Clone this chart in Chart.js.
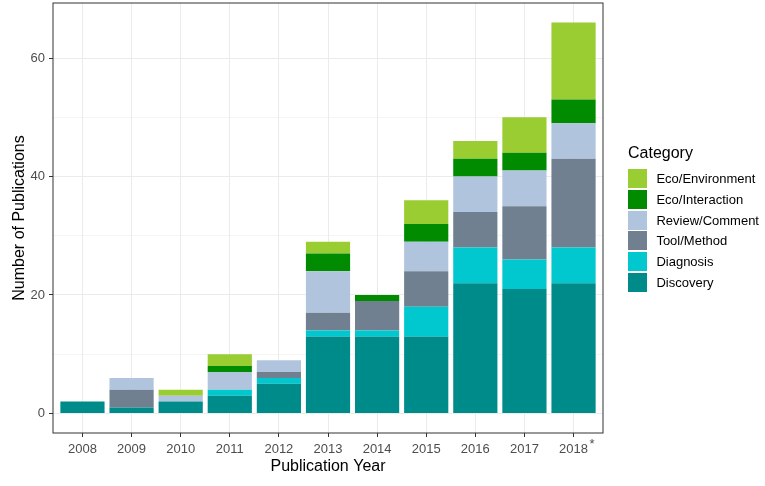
<!DOCTYPE html>
<html>
<head>
<meta charset="utf-8">
<title>Publications by category</title>
<script src="https://cdn.jsdelivr.net/npm/chart.js@4.4.1/dist/chart.umd.min.js"></script>
<style>
  body { margin: 0; background: #fff; font-family: "Liberation Sans", Arial, sans-serif; }
  #wrap { position: relative; width: 765px; height: 486px; }
  #legend { position: absolute; left: 628px; top: 144px; color: #000; }
  #legend .title { font-size: 16px; line-height: 18px; height: 24.3px; }
  #legend .item { display: flex; align-items: center; height: 20.7px; font-size: 13px; }
  #legend .key { width: 19px; height: 19px; margin-right: 9.4px; }
</style>
</head>
<body>
<div id="wrap">
  <canvas id="pubChart" width="765" height="486"></canvas>
  <div id="legend"><div class="title">Category</div></div>
</div>
<script>
// Data
const years = [2008, 2009, 2010, 2011, 2012, 2013, 2014, 2015, 2016, 2017, 2018];
const discovery      = [2, 1, 2, 3, 5, 13, 13, 13, 22, 21, 22];
const diagnosis      = [0, 0, 0, 1, 1, 1, 1, 5, 6, 5, 6];
const toolMethod     = [0, 3, 0, 0, 1, 3, 5, 6, 6, 9, 15];
const reviewComment  = [0, 2, 1, 3, 2, 7, 0, 5, 6, 6, 6];
const ecoInteraction = [0, 0, 0, 1, 0, 3, 1, 3, 3, 3, 4];
const ecoEnvironment = [0, 0, 1, 2, 0, 2, 0, 4, 3, 6, 13];
const yTicks = [0, 10, 20, 30, 40, 50, 60];

// bottom of the stack first
const series = [
    { label: "Discovery", data: discovery, color: "#008B8B" },
    { label: "Diagnosis", data: diagnosis, color: "#00C8CE" },
    { label: "Tool/Method", data: toolMethod, color: "#708090" },
    { label: "Review/Comment", data: reviewComment, color: "#B0C4DE" },
    { label: "Eco/Interaction", data: ecoInteraction, color: "#008B00" },
    { label: "Eco/Environment", data: ecoEnvironment, color: "#9ACD32" },
];

// Legend (top item is the top of the stack)
const legendBox = document.getElementById("legend");
series.slice().reverse().forEach(s => {
    const row = document.createElement("div");
    row.className = "item";
    const key = document.createElement("span");
    key.className = "key";
    key.style.background = s.color;
    row.appendChild(key);
    row.appendChild(document.createTextNode(s.label));
    legendBox.appendChild(row);
});

// Panel border + the "*" after 2018
const panelPlugin = {
    id: "panel",
    afterDraw(chart) {
        const { ctx, chartArea: a, scales } = chart;
        ctx.save();
        ctx.strokeStyle = "#333333";
        ctx.lineWidth = 1;
        ctx.strokeRect(a.left, a.top, a.right - a.left, a.bottom - a.top);
        ctx.fillStyle = "#4D4D4D";
        ctx.font = "13px 'Liberation Sans', Arial, sans-serif";
        ctx.textAlign = "left";
        ctx.textBaseline = "alphabetic";
        ctx.fillText("*", scales.x.getPixelForValue(years[years.length - 1]) + 16, 448);
        ctx.restore();
    }
};

const ctx = document.getElementById("pubChart").getContext("2d");
new Chart(ctx, {
    type: "bar",
    data: {
        datasets: series.map(s => ({
            label: s.label,
            data: years.map((yr, i) => ({ x: yr, y: s.data[i] })),
            backgroundColor: s.color,
            borderWidth: 0,
            barPercentage: 0.9,
            categoryPercentage: 1.0,
        })),
    },
    options: {
        responsive: false,
        animation: false,
        layout: { padding: { left: 0, top: 3, right: 162, bottom: 0 } },
        plugins: { legend: { display: false }, tooltip: { enabled: false } },
        scales: {
            x: {
                type: "linear",
                stacked: true,
                offset: false,
                min: 2007.4,
                max: 2018.6,
                afterBuildTicks: axis => { axis.ticks = years.map(v => ({ value: v })); },
                afterFit: axis => { axis.height = 53; axis.paddingLeft = 0; axis.paddingRight = 0; },
                ticks: {
                    callback: v => String(v),
                    color: "#4D4D4D",
                    font: { size: 13 },
                    padding: 5,
                    maxRotation: 0,
                    autoSkip: false,
                },
                grid: { offset: false, color: "#EBEBEB", lineWidth: 1, tickColor: "#333333", tickLength: 4 },
                border: { display: false },
                title: {
                    display: true,
                    text: "Publication Year",
                    color: "#000",
                    font: { size: 16 },
                    padding: { top: 0, bottom: 10 },
                },
            },
            y: {
                stacked: true,
                min: -3.3,
                max: 69.3,
                afterBuildTicks: axis => { axis.ticks = yTicks.map(v => ({ value: v })); },
                afterFit: axis => { axis.width = 53; axis.paddingTop = 0; axis.paddingBottom = 0; },
                ticks: {
                    callback: v => (v % 20 === 0 ? String(v) : ""),
                    color: "#4D4D4D",
                    font: { size: 13 },
                    padding: 4,
                },
                grid: {
                    color: "#EBEBEB",
                    lineWidth: c => (c.tick && c.tick.value % 20 === 0 ? 1 : 0.5),
                    tickColor: c => (c.tick && c.tick.value % 20 === 0 ? "#333333" : "rgba(0,0,0,0)"),
                    tickLength: 4,
                },
                border: { display: false },
                title: {
                    display: true,
                    text: "Number of Publications",
                    color: "#000",
                    font: { size: 16 },
                    padding: { top: 10, bottom: 0 },
                },
            },
        },
    },
    plugins: [panelPlugin],
});
</script>
</body>
</html>
